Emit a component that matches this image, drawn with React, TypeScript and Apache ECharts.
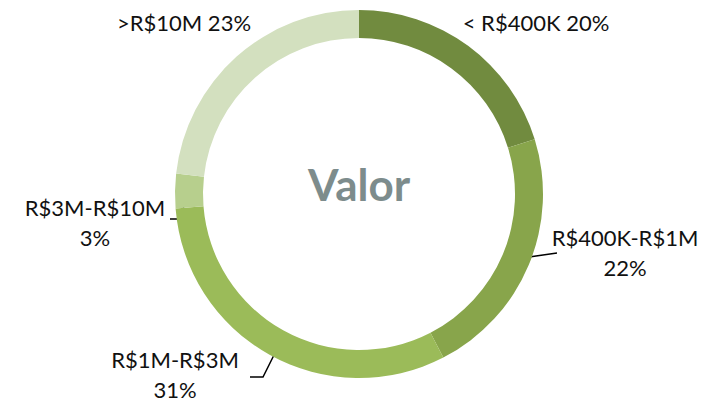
import React, { useEffect, useRef } from "react";
import * as echarts from "echarts";

const categories = ["< R$400K", "R$400K-R$1M", "R$1M-R$3M", "R$3M-R$10M", ">R$10M"];
const values = [20, 22, 31, 3, 23];
const colors = ["#718b3f", "#88a54b", "#9bbb59", "#b7cf8d", "#d3e0bf"];
const centerTitle = "Valor";

// label layout (pixel positions of label centres and leader lines)
const labelPos: Array<{ x: number; y: number; line?: number[][]; twoLine: boolean }> = [
  { x: 536, y: 22, twoLine: false },
  { x: 625, y: 252, twoLine: true, line: [[516, 259], [536, 256], [557, 253]] },
  { x: 175, y: 374, twoLine: true, line: [[279, 345], [263, 377], [250, 377]] },
  { x: 95, y: 222, twoLine: true, line: [[188, 192], [180, 219], [170, 219]] },
  { x: 184, y: 22, twoLine: false },
];

export default function App() {
  const ref = useRef<HTMLDivElement>(null);
  useEffect(() => {
    if (!ref.current) return;
    const chart = echarts.init(ref.current, null, { renderer: "svg" });
    chart.setOption({
      animation: false,
      backgroundColor: "#ffffff",
      graphic: [
        {
          type: "text",
          x: 359,
          y: 184,
          style: {
            text: centerTitle,
            fill: "#7d8c8c",
            font: "bold 44px Lato",
            align: "center",
            verticalAlign: "middle",
          },
        },
      ],
      series: [
        {
          type: "pie",
          center: [359, 194],
          radius: [156, 184],
          startAngle: 90,
          clockwise: true,
          avoidLabelOverlap: false,
          data: categories.map((c, i) => ({
            name: c,
            value: values[i],
            itemStyle: { color: colors[i] },
            labelLine: { show: !!labelPos[i].line },
          })),
          label: {
            show: true,
            position: "outside",
            fontFamily: "Lato",
            fontSize: 22,
            lineHeight: 30,
            color: "#111111",
            align: "center",
            formatter: (p: any) =>
              labelPos[p.dataIndex].twoLine ? `${p.name}\n${p.value}%` : `${p.name} ${p.value}%`,
          },
          labelLine: {
            lineStyle: { color: "#000000", width: 1.5 },
            length: 10,
            length2: 10,
          },
          labelLayout: (params: any) => {
            const lp = labelPos[params.dataIndex];
            const r: any = {
              x: lp.x,
              y: lp.y,
              align: "center",
              verticalAlign: "middle",
            };
            if (lp.line) r.labelLinePoints = lp.line;
            return r;
          },
        },
      ],
    });
    return () => chart.dispose();
  }, []);
  return (
    <div
      ref={ref}
      style={{ position: "fixed", left: 0, top: 0, width: 720, height: 404 }}
    />
  );
}
